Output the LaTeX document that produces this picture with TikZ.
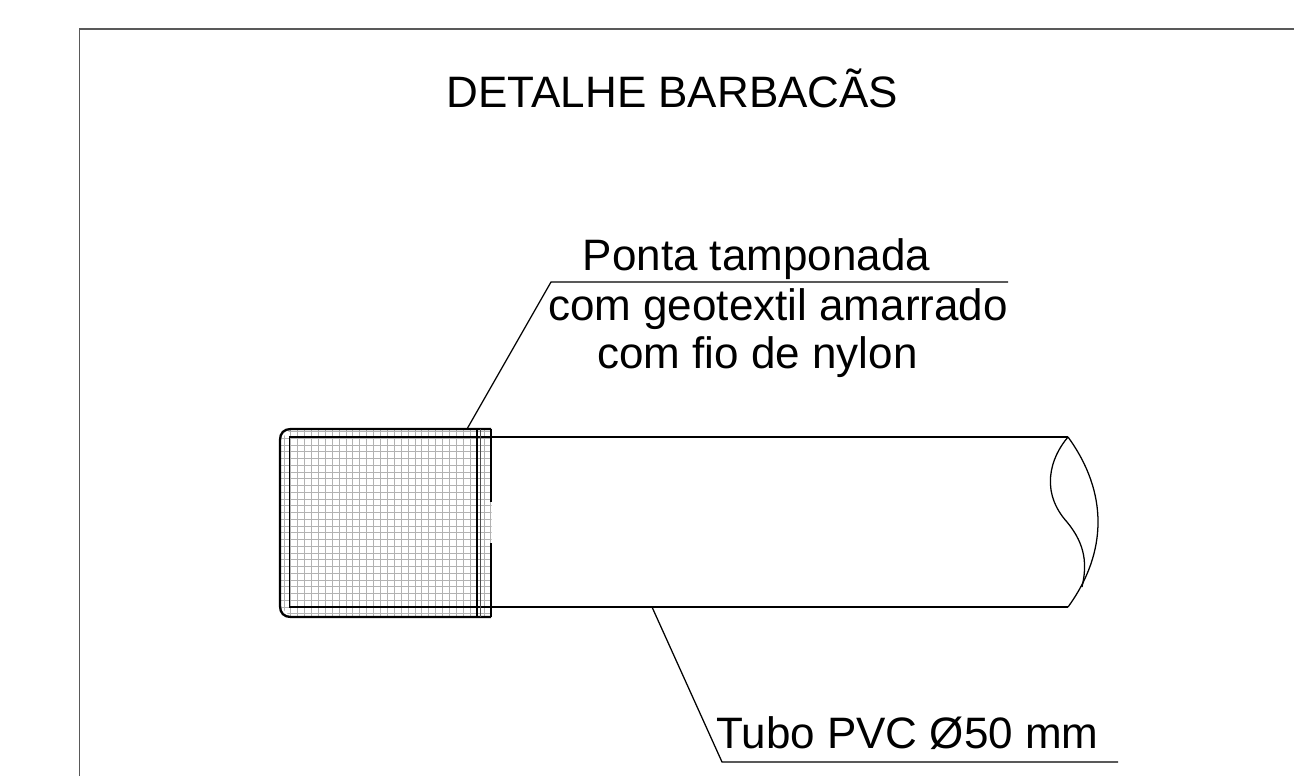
\documentclass[tikz,border=0pt]{standalone}
\usepackage{fontspec}
\setmainfont{Liberation Sans}
\newcommand{\fsz}[1]{\fontsize{#1}{#1}\selectfont}
\tikzset{
  x=0.75pt,y=-0.75pt,
  lbl/.style={inner sep=0pt,outer sep=0pt,anchor=base,text=black},
  thin line/.style={draw=black,line width=0.95pt},
  heavy/.style={draw=black,line width=1.75pt},
  mesh/.style={draw=black!30,line width=0.75pt}
}
\begin{document}
\begin{tikzpicture}
\useasboundingbox (0,0) rectangle (1294,776);
\fill[white] (0,0) rectangle (1294,776);
% frame
\draw[draw=black!65,line width=0.9pt] (79.5,776) -- (79.5,29) -- (1294,29);
% mesh
\begin{scope}
\clip (491.5,429) -- (291,429) -- (280,440) -- (280,606) -- (291,617) -- (491.5,617) -- cycle;
\foreach \i in {0,...,30} {
  \pgfmathsetmacro{\mx}{round(283.5+\i*6.9)+0.5}
  \draw[mesh] (\mx,429) -- (\mx,618);
}
\foreach \i in {0,...,28} {
  \pgfmathsetmacro{\my}{round(431+\i*6.75)+0.5}
  \draw[mesh] (279,\my) -- (492,\my);
}
\end{scope}
% cap outline
\draw[heavy] (491,429) -- (291,429) .. controls (284,429) and (280,433) .. (280,440) -- (280,606) .. controls (280,613) and (284,617) .. (291,617) -- (491,617);
\draw[draw=black,line width=1.1pt] (491,437) -- (289.5,437) -- (289.5,607) -- (491,607);
\draw[draw=black,line width=2.1pt] (477,429) -- (477,617);
\draw[draw=black!70,line width=0.6pt] (480,429) -- (480,617);
\draw[heavy] (491,429) -- (491,502);
\draw[heavy] (491,543) -- (491,617);
% pipe
\coordinate (ptop) at (1068,437);
\coordinate (pbot) at (1068,607);
\draw[thin line] (491,437) -- (ptop);
\draw[thin line] (491,607) -- (pbot);
\draw[thin line] (ptop) .. controls (1108,492) and (1108,552) .. (pbot);
\draw[thin line] (ptop) .. controls (1050,458) and (1040,492) .. (1067,522) .. controls (1086,545) and (1087,565) .. (1082,587);
% leaders
\coordinate (a0) at (467,429);
\coordinate (a1) at (551,282);
\coordinate (a2) at (1008,282);
\draw[thin line] (a0) -- (a1) -- (a2);
\coordinate (b0) at (652,607);
\coordinate (b1) at (722,762);
\coordinate (b2) at (1118,762);
\draw[thin line] (b0) -- (b1) -- (b2);
% text
\node[lbl,font=\fsz{33pt}] (title) at (672.5,107) {DETALHE BARBACÃS};
\node[lbl,font=\fsz{33pt}] (t1) at (756.5,270) {Ponta tamponada};
\node[lbl,font=\fsz{33pt}] (t2) at (778,320) {com geotextil amarrado};
\node[lbl,font=\fsz{33pt}] (t3) at (757.5,368) {com fio de nylon};
\node[lbl,font=\fsz{33pt}] (t4) at (907.5,748) {Tubo PVC Ø50 mm};
\end{tikzpicture}
\end{document}
